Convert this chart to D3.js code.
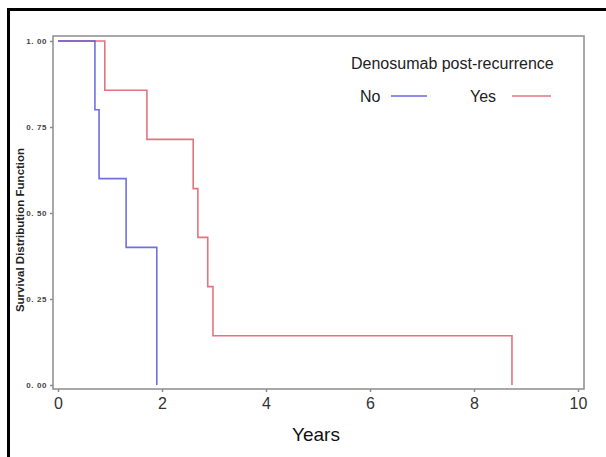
<!DOCTYPE html>
<html>
<head>
<meta charset="utf-8">
<script src="https://cdn.jsdelivr.net/npm/d3@7"></script>
<style>
  body { margin: 0; background: #fff; }
  svg { display: block; font-family: Arial, "Liberation Sans", sans-serif; }
</style>
</head>
<body>
<div id="chart"></div>
<script>
// Kaplan-Meier steps: [time in years, survival]
var noSteps = [[0, 1], [0.71, 0.8], [0.79, 0.6], [1.31, 0.4], [1.9, 0]];
var yesSteps = [[0, 1], [0.9, 0.857], [1.71, 0.714], [2.6, 0.571], [2.69, 0.429], [2.88, 0.286], [2.98, 0.143], [8.73, 0]];
var xTicks = [0, 2, 4, 6, 8, 10];
var yTicks = [0, 0.25, 0.5, 0.75, 1];

var width = 606, height = 457;

var svg = d3.select("#chart")
    .append("svg")
    .attr("width", width)
    .attr("height", height);

// black frame around the figure
svg.append("path")
    .attr("d", "M8.5,457 V9.5 H606")
    .attr("fill", "none")
    .attr("stroke", "#000")
    .attr("stroke-width", 3);

var xScale = d3.scaleLinear().domain([0, 10]).range([58, 578]);
var yScale = d3.scaleLinear().domain([0, 1]).range([385, 41]);

// plot frame
svg.append("rect")
    .attr("x", 53).attr("y", 36)
    .attr("width", 584 - 53).attr("height", 389 - 36)
    .attr("fill", "none")
    .attr("stroke", "#8c8c8c")
    .attr("stroke-width", 1.5);

var xAxis = svg.append("g")
    .attr("transform", "translate(0,389)")
    .call(d3.axisBottom(xScale).tickValues(xTicks).tickSize(3).tickPadding(6).tickFormat(d3.format("d")));
xAxis.select(".domain").remove();
xAxis.selectAll("line").attr("stroke", "#8c8c8c").attr("stroke-width", 1.5);
xAxis.selectAll("text").attr("font-size", 16).attr("fill", "#333").attr("font-family", "Arial, 'Liberation Sans', sans-serif");

var yAxis = svg.append("g")
    .attr("transform", "translate(53,0)")
    .call(d3.axisLeft(yScale).tickValues(yTicks).tickSize(3).tickPadding(3)
        .tickFormat(function(d) { return d3.format(".2f")(d).replace(".", ". "); }));
yAxis.select(".domain").remove();
yAxis.selectAll("line").attr("stroke", "#8c8c8c").attr("stroke-width", 1.5);
yAxis.selectAll("text")
    .attr("font-size", 8)
    .attr("letter-spacing", 0.6)
    .attr("font-weight", "bold")
    .attr("fill", "#444")
    .attr("font-family", "Arial, 'Liberation Sans', sans-serif");

var line = d3.line()
    .x(function(d) { return xScale(d[0]); })
    .y(function(d) { return yScale(d[1]); })
    .curve(d3.curveStepAfter);

svg.append("path")
    .datum(yesSteps)
    .attr("d", line)
    .attr("fill", "none")
    .attr("stroke", "#e05a68")
    .attr("stroke-opacity", 0.85)
    .attr("stroke-width", 1.6);

svg.append("path")
    .datum(noSteps)
    .attr("d", line)
    .attr("fill", "none")
    .attr("stroke", "#4b4bdc")
    .attr("stroke-opacity", 0.8)
    .attr("stroke-width", 1.6);

// axis titles
svg.append("text")
    .attr("x", 316).attr("y", 441)
    .attr("text-anchor", "middle")
    .attr("font-size", 19)
    .attr("fill", "#111")
    .text("Years");

svg.append("text")
    .attr("transform", "translate(24,230) rotate(-90)")
    .attr("text-anchor", "middle")
    .attr("font-size", 11.5)
    .attr("font-weight", "bold")
    .attr("fill", "#222")
    .text("Survival Distribution Function");

// legend
svg.append("text")
    .attr("x", 351).attr("y", 69)
    .attr("font-size", 16)
    .attr("fill", "#222")
    .text("Denosumab post-recurrence");

var legend = [
    {label: "No", color: "#4b4bdc", tx: 360, x1: 391, x2: 427},
    {label: "Yes", color: "#e05a68", tx: 470, x1: 512, x2: 551}
];

legend.forEach(function(l) {
    svg.append("text")
        .attr("x", l.tx).attr("y", 102)
        .attr("font-size", 16)
        .attr("fill", "#222")
        .text(l.label);
    svg.append("line")
        .attr("x1", l.x1).attr("x2", l.x2)
        .attr("y1", 96).attr("y2", 96)
        .attr("stroke", l.color)
        .attr("stroke-opacity", 0.85)
        .attr("stroke-width", 1.6);
});
</script>
</body>
</html>
